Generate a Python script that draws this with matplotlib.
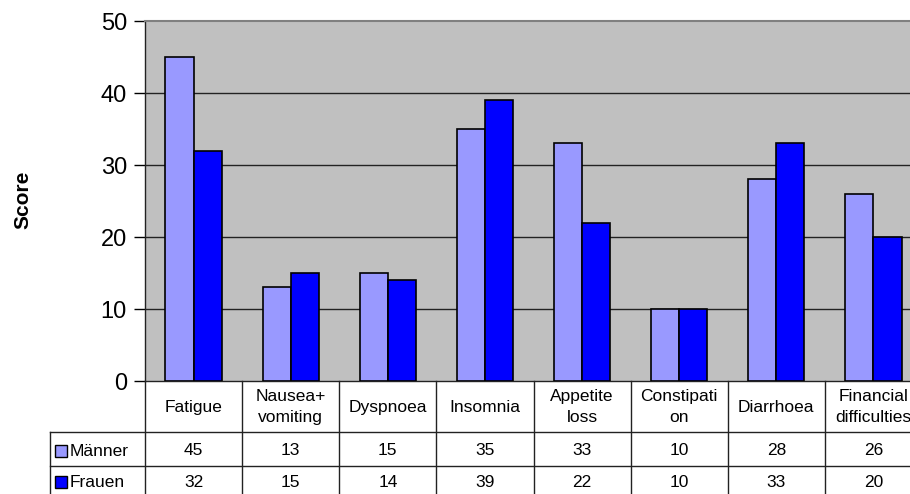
import numpy as np
import matplotlib
matplotlib.use("Agg")
import matplotlib.pyplot as plt
from matplotlib.transforms import blended_transform_factory
from matplotlib.patches import Rectangle

plt.rcParams['font.family'] = ['Liberation Sans', 'DejaVu Sans']

categories = ["Fatigue", "Nausea+\nvomiting", "Dyspnoea", "Insomnia", "Appetite\nloss",
              "Constipati\non", "Diarrhoea", "Financial\ndifficulties"]
maenner = [45, 13, 15, 35, 33, 10, 28, 26]
frauen = [32, 15, 14, 39, 22, 10, 33, 20]
series_names = ["Männer", "Frauen"]
series_colors = ["#9999ff", "#0000ff"]

W, H = 910, 494
fig = plt.figure(figsize=(W / 100, H / 100), dpi=100)

# plot area runs a bit past the right edge of the image
left, right, top, bottom = 145, 922, 21, 381
ax = fig.add_axes([left / W, (H - bottom) / H, (right - left) / W, (bottom - top) / H])
ax.set_facecolor("#c0c0c0")

n = len(categories)
x = np.arange(n)
bw = 0.29
ax.bar(x + 0.5 - bw / 2, maenner, bw, color=series_colors[0], edgecolor="black", linewidth=1.2, zorder=3)
ax.bar(x + 0.5 + bw / 2, frauen, bw, color=series_colors[1], edgecolor="black", linewidth=1.2, zorder=3)

ax.set_xlim(0, n)
ax.set_ylim(0, 50)
ax.set_yticks(range(0, 51, 10))
ax.tick_params(axis='y', labelsize=17, length=8, width=1, direction='out', pad=5)
ax.set_xticks([])
for v in range(10, 50, 10):
    ax.axhline(v, color="#222222", linewidth=1, zorder=1)

for s in ["right", "bottom"]:
    ax.spines[s].set_visible(False)
ax.spines["top"].set_color("#808080")
ax.spines["top"].set_linewidth(1.5)
ax.spines["left"].set_color("#222222")
ax.spines["left"].set_linewidth(1)

fig.text(23 / W, (H - 200) / H, "Score", rotation=90, fontsize=15, fontweight="bold",
         ha="center", va="center")

# data table under the chart
tr = blended_transform_factory(ax.transData, fig.transFigure)
def fy(py):
    return (H - py) / H

label_x0 = 50 / W
line_kw = dict(color="#222222", linewidth=1, clip_on=False)
fs = 12.5

# horizontal table lines
ax.plot([0, n + 1], [fy(381), fy(381)], transform=tr, **line_kw)
for py in (432, 466):
    fig.add_artist(plt.Line2D([label_x0, 1.0], [fy(py), fy(py)], **line_kw))
fig.add_artist(plt.Line2D([label_x0, label_x0], [fy(432), fy(494)], **line_kw))

# vertical table lines at category boundaries
for i in range(n + 1):
    ax.plot([i, i], [fy(381), fy(494)], transform=tr, **line_kw)

for i, cat in enumerate(categories):
    ax.text(i + 0.5, fy(407), cat, transform=tr, ha="center", va="center",
            fontsize=fs, linespacing=1.45, clip_on=False)
    ax.text(i + 0.5, fy(450), str(maenner[i]), transform=tr, ha="center",
            va="center", fontsize=fs, clip_on=False)
    ax.text(i + 0.5, fy(482), str(frauen[i]), transform=tr, ha="center",
            va="center", fontsize=fs, clip_on=False)

# legend keys in the row labels
for yc, name, col in zip([451, 482], series_names, series_colors):
    fig.add_artist(Rectangle((55 / W, fy(yc + 6)), 12 / W, 12 / H, facecolor=col,
                             edgecolor="black", linewidth=1, transform=fig.transFigure))
    fig.text(70 / W, fy(yc), name, fontsize=fs, ha="left", va="center")

fig.savefig("out.png", dpi=100)
